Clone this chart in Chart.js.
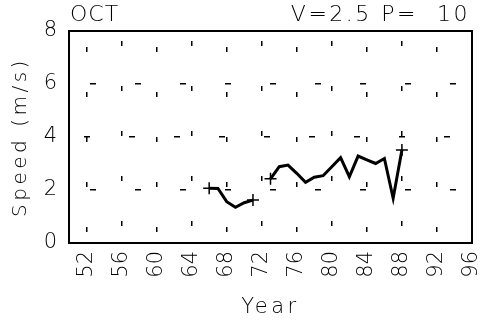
<!DOCTYPE html>
<html>
<head>
<meta charset="utf-8">
<script src="https://cdn.jsdelivr.net/npm/chart.js@4/dist/chart.umd.min.js"></script>
<style>
  html, body { margin: 0; padding: 0; background: #fff; }
  #wrap { width: 485px; height: 326px; position: relative; }
</style>
</head>
<body>
<div id="wrap"><canvas id="grafico"></canvas></div>
<script>
// datos
const anios = [66, 67, 68, 69, 70, 71, 72, 73, 74, 75, 76, 77, 78, 79, 80, 81, 82, 83, 84, 85, 86, 87, 88];
const velocidad = [2.07, 2.06, 1.56, 1.35, 1.52, 1.62, null, 2.42, 2.88, 2.94, 2.63, 2.29, 2.48, 2.54, 2.88, 3.22, 2.5, 3.28, 3.14, 3.0, 3.19, 1.69, 3.51];
const cruces = [66, 71, 73, 88];
const ticksX = [52, 56, 60, 64, 68, 72, 76, 80, 84, 88, 92, 96];
const ticksY = [0, 2, 4, 6, 8];
const tituloIzq = "OCT";
const tituloDer = "V=2.5 P=  10";

const fuente = "'DejaVu Sans', sans-serif";
const peso = 200;

// espaciado ancho para titulos de ejes (las etiquetas se dibujan despues, sin espaciado)
const espaciado = {
  id: 'espaciado',
  beforeDraw(chart) { chart.ctx.letterSpacing = '3.5px'; },
  beforeDatasetsDraw(chart) { chart.ctx.letterSpacing = '0px'; }
};

// marco y textos de cabecera
const marco = {
  id: 'marco',
  afterDraw(chart) {
    const { ctx, chartArea: a } = chart;
    ctx.save();
    ctx.strokeStyle = '#000';
    ctx.lineWidth = 2;
    ctx.strokeRect(a.left, a.top, a.right - a.left, a.bottom - a.top);
    ctx.fillStyle = '#000';
    ctx.font = peso + " 22px " + fuente;
    ctx.textBaseline = 'alphabetic';
    ctx.letterSpacing = '1px';
    ctx.textAlign = 'left';
    ctx.fillText(tituloIzq, 70, 21);
    ctx.letterSpacing = '2.5px';
    ctx.textAlign = 'right';
    ctx.fillText(tituloDer, 470, 21);
    ctx.restore();
  }
};

const puntos = anios.map((a, i) => ({ x: a, y: velocidad[i] }));

new Chart(document.getElementById('grafico'), {
  type: 'line',
  data: {
    datasets: [{
      data: puntos,
      borderColor: '#000',
      borderWidth: 3,
      tension: 0,
      spanGaps: false,
      pointStyle: 'cross',
      pointRadius: ctx => cruces.includes(anios[ctx.dataIndex]) ? 6 : 0,
      pointBorderColor: '#000',
      pointBorderWidth: 1.5
    }]
  },
  options: {
    responsive: true,
    maintainAspectRatio: false,
    animation: false,
    layout: { padding: { top: 31, right: 13, left: 0, bottom: 0 } },
    plugins: { legend: { display: false }, tooltip: { enabled: false } },
    scales: {
      x: {
        type: 'linear',
        min: 50,
        max: 96,
        afterBuildTicks: s => { s.ticks = ticksX.map(v => ({ value: v })); },
        afterFit: s => { s.height = 83; s.paddingLeft = 0; s.paddingRight = 0; },
        ticks: {
          color: '#000',
          font: { family: fuente, size: 21, weight: peso },
          minRotation: 90,
          maxRotation: 90,
          padding: 8,
          autoSkip: false,
          z: 1
        },
        grid: { color: '#000', lineWidth: 1.5, drawTicks: false },
        border: {
          display: false,
          dash: [5, 40],
          dashOffset: ctx => ctx.index % 2 === 0 ? 29 : 35
        },
        title: {
          display: true,
          text: 'Year',
          color: '#000',
          font: { family: fuente, size: 21, weight: peso },
          padding: { top: 0, bottom: 6 }
        }
      },
      y: {
        min: 0,
        max: 8,
        afterBuildTicks: s => { s.ticks = ticksY.map(v => ({ value: v })); },
        afterFit: s => { s.width = 69; },
        ticks: {
          color: '#000',
          font: { family: fuente, size: 21, weight: peso },
          padding: 12,
          z: 1
        },
        grid: { color: '#000', lineWidth: 1.5, drawTicks: false },
        border: {
          display: false,
          dash: [6, 39],
          dashOffset: ctx => [28, 24, 30, 24, 27][ctx.index] || 24
        },
        title: {
          display: true,
          text: 'Speed (m/s)',
          color: '#000',
          font: { family: fuente, size: 20, weight: peso },
          padding: { top: 9, bottom: 0 }
        }
      }
    }
  },
  plugins: [espaciado, marco]
});
</script>
</body>
</html>
